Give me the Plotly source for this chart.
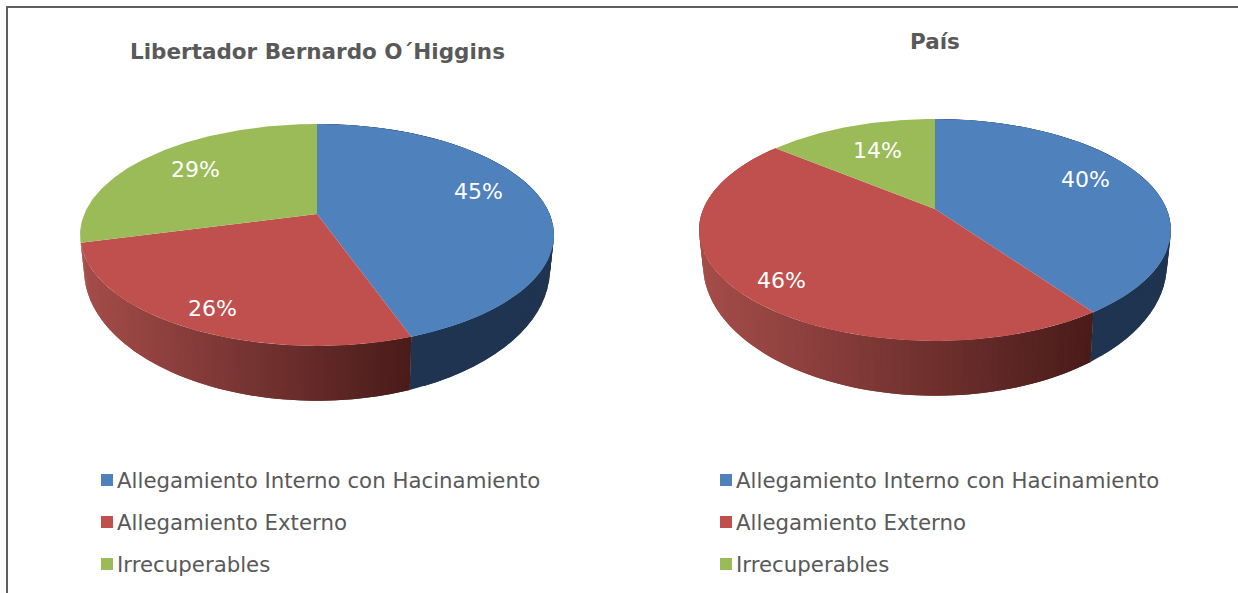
import math
import plotly.graph_objects as go

# ---- data -------------------------------------------------------------
CATEGORIES = ["Allegamiento Interno con Hacinamiento", "Allegamiento Externo", "Irrecuperables"]
REGION_TITLE = "Libertador Bernardo O´Higgins"
COUNTRY_TITLE = "País"
REGION_VALUES = [44.6, 26.3, 29.1]
COUNTRY_VALUES = [40.2, 45.8, 14.0]

# ---- style / layout ----------------------------------------------------
W, H = 1238, 593
TOP_COLORS = ["#4f81bd", "#c0504d", "#9bbb59"]
TEXT_COLOR = "#595959"
BLUE_SIDE = "#1f3450"
RED_LEFT, RED_RIGHT = (165, 77, 74), (72, 27, 25)
FONT = "DejaVu Sans"

# perspective of the tilted disc: top rim, and the lower rim of the wall
A, K = 107.0, 0.189
BOTTOM_A, BOTTOM_WIDTH, BOTTOM_DROP = 126.3, 0.983, 31.0

fig = go.Figure()


def project(pie, deg, bottom=False):
    t = math.radians(deg)
    X, Y = math.sin(t), -math.cos(t)
    d = 1 - K * Y
    if bottom:
        return (pie["cx"] + pie["b"] * BOTTOM_WIDTH * X / d,
                pie["cy"] + BOTTOM_DROP + BOTTOM_A * Y / d)
    return pie["cx"] + pie["b"] * X / d, pie["cy"] + A * Y / d


def poly(xs, ys, color):
    fig.add_trace(go.Scatter(
        x=xs, y=ys, mode="lines", fill="toself", fillcolor=color,
        line=dict(color=color, width=0), hoverinfo="skip", showlegend=False))


def arc(pie, a0, a1, n=120):
    pts = [project(pie, a0 + (a1 - a0) * i / n) for i in range(n + 1)]
    return [p[0] for p in pts], [p[1] for p in pts]


def wall(pie, a0, a1, n, color_of):
    step = (a1 - a0) / n
    for i in range(n):
        s0 = a0 + step * max(i - 1, 0)
        s1 = a0 + step * (i + 1)
        p = [project(pie, s0), project(pie, s1), project(pie, s1, True), project(pie, s0, True)]
        poly([q[0] for q in p], [q[1] for q in p], color_of((p[0][0] + p[1][0]) / 2))


def draw_pie(pie):
    cx, cy, values = pie["cx"], pie["cy"], pie["values"]
    total = sum(values)
    edges = [0.0]
    for v in values:
        edges.append(edges[-1] + 360.0 * v / total)

    # blue wall (flat)
    wall(pie, edges[0], edges[1], 50, lambda x: BLUE_SIDE)

    # red wall: shaded, darker to the right
    xmin = cx - pie["b"] - 5
    xmax = project(pie, edges[1])[0]

    def shade(x):
        f = min(1, max(0, (x - xmin) / (xmax - xmin)))
        return "rgb(%d,%d,%d)" % tuple(
            round(RED_LEFT[j] + (RED_RIGHT[j] - RED_LEFT[j]) * f) for j in range(3))

    wall(pie, edges[1], edges[2], 110, shade)

    # top faces
    for i in range(len(values)):
        ax, ay = arc(pie, edges[i], edges[i + 1])
        poly([cx] + ax + [cx], [cy] + ay + [cy], TOP_COLORS[i])


def add_text(x, y, text, size, color=TEXT_COLOR, bold=False, anchor="center"):
    fig.add_annotation(
        x=x, y=y, text="<b>%s</b>" % text if bold else text, showarrow=False,
        xanchor=anchor, yanchor="middle", borderpad=0,
        font=dict(family=FONT, size=size, color=color))


PIES = [
    dict(cx=317, cy=214, b=232.7, values=REGION_VALUES, title=REGION_TITLE, title_y=51,
         labels=[(478, 191), (212, 308), (195, 169)], swatch_x=107, text_x=116),
    dict(cx=935, cy=209, b=231.7, values=COUNTRY_VALUES, title=COUNTRY_TITLE, title_y=41,
         labels=[(1085, 179), (781, 280), (877, 150)], swatch_x=726, text_x=735),
]
LEGEND_Y = [480, 522, 564]

for pie in PIES:
    draw_pie(pie)
    add_text(pie["cx"], pie["title_y"], pie["title"], 21.5, bold=True)
    for v, (lx, ly) in zip(pie["values"], pie["labels"]):
        add_text(lx, ly, "%d%%" % round(v), 22, color="white")
    for name, color, y in zip(CATEGORIES, TOP_COLORS, LEGEND_Y):
        fig.add_trace(go.Scatter(
            x=[pie["swatch_x"]], y=[y], mode="markers",
            marker=dict(symbol="square", size=12, color=color, line=dict(width=0)),
            hoverinfo="skip", showlegend=False))
        add_text(pie["text_x"], y, name, 21.3, anchor="left")

# frame of the chart area (open at the right and the bottom)
fig.add_shape(type="line", x0=7, x1=W, y0=7, y1=7, line=dict(color="#5f5f5f", width=2))
fig.add_shape(type="line", x0=7, x1=7, y0=6, y1=H, line=dict(color="#5f5f5f", width=2))

fig.update_layout(
    width=W, height=H, autosize=False, margin=dict(l=0, r=0, t=0, b=0),
    paper_bgcolor="white", plot_bgcolor="white", showlegend=False,
    xaxis=dict(range=[0, W], visible=False, fixedrange=True),
    yaxis=dict(range=[H, 0], visible=False, fixedrange=True),
)
fig.write_html(
    "out.html",
    config={"displayModeBar": False},
    post_script="document.body.style.margin='0';document.documentElement.style.overflow='hidden';",
)
